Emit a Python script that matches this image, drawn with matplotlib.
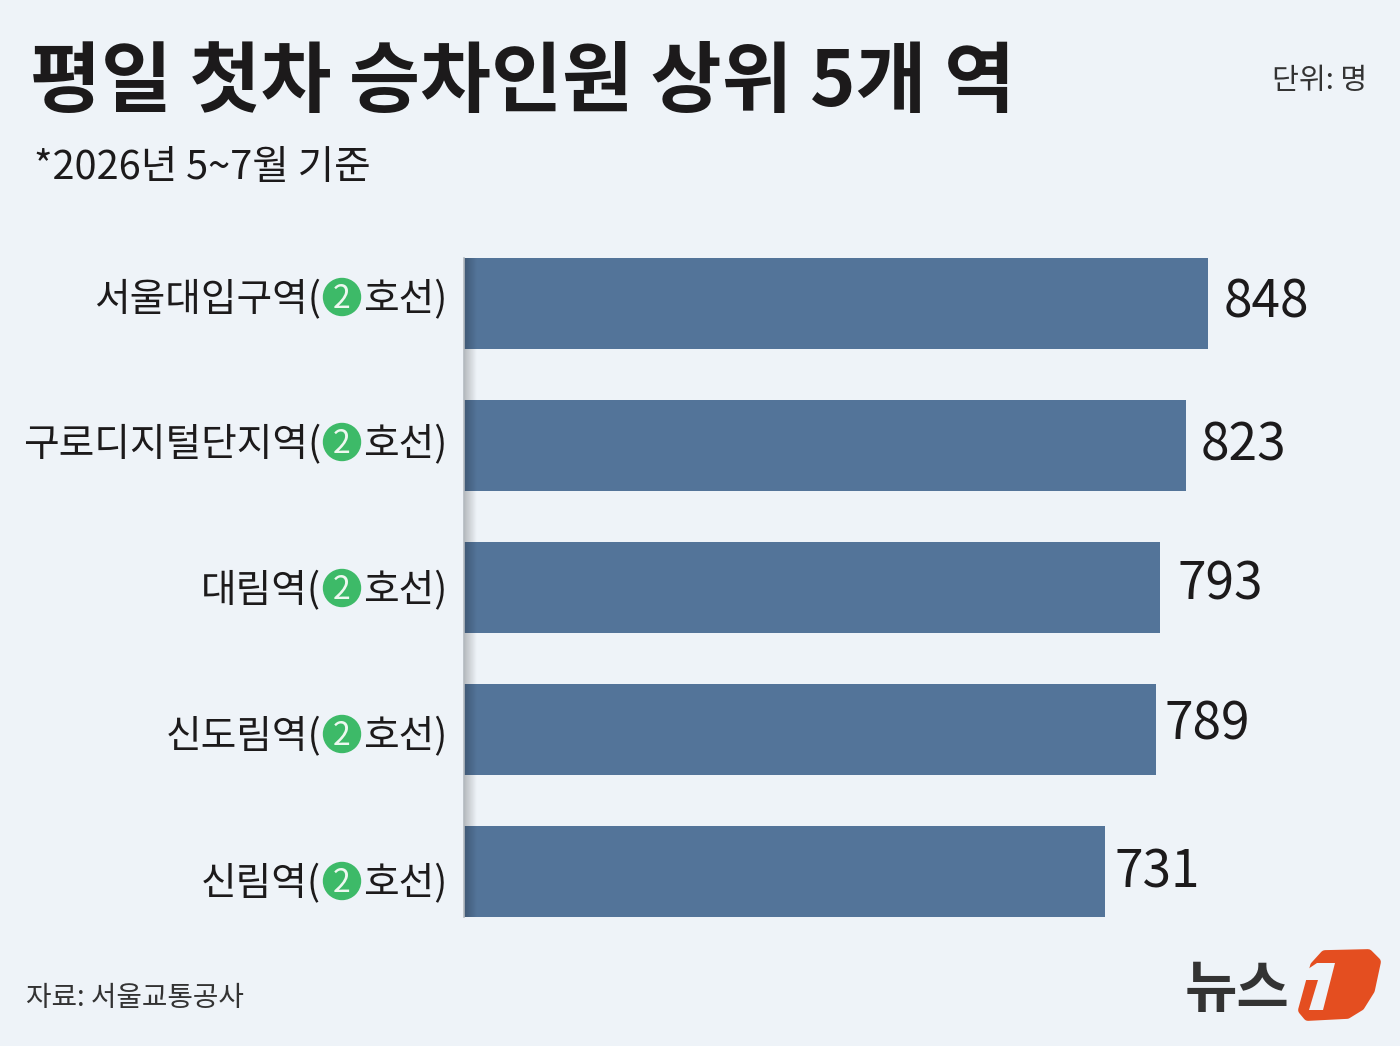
# -*- coding: utf-8 -*-

import numpy as np
import matplotlib
matplotlib.use("Agg")
import matplotlib.pyplot as plt
from matplotlib.patches import Circle, Polygon

plt.rcParams['font.family'] = ['Noto Sans CJK KR', 'DejaVu Sans']

stations = ["서울대입구역", "구로디지털단지역", "대림역", "신도림역", "신림역"]
riders = [848, 823, 793, 789, 731]
line_no = "2"
line_suffix = "호선)"

title = "평일 첫차 승차인원 상위 5개 역"
subtitle = "*2026년 5~7월 기준"
unit = "단위: 명"
source = "자료: 서울교통공사"

# the picture's labels do not sit exactly on the bars, so they are placed by pixel
label_y = [296, 441, 587, 733, 880]
value_right = [1309, 1286, 1263, 1250, 1200]
value_y = [298, 441, 580, 720, 868]

BG = "#eef3f8"
BAR = "#537499"
INK = "#1c1a1b"
W, H = 1400, 1046

fig = plt.figure(figsize=(W / 100, H / 100), dpi=100, facecolor=BG)

# bars: 464..1208 px is 0..848
ax = fig.add_axes([464 / W, 1 - 917 / H, 744 / W, (917 - 258) / H])
ax.set_facecolor("none")
pos = np.arange(len(riders))
ax.barh(pos, riders, height=91 / 142, color=BAR)
ax.set_xlim(0, 848)
ax.set_ylim(4 + 45.5 / 142, -45.5 / 142)
ax.axis("off")

# overlay in pixel coordinates for text and decorations
ov = fig.add_axes([0, 0, 1, 1])
ov.set_facecolor("none")

shade = np.zeros((1, 64, 4))
shade[0, :, 3] = np.linspace(0.24, 0, 64)
ov.imshow(shade, extent=[464, 477, 917, 258], aspect="auto", zorder=1)
ov.plot([464, 464], [258, 917], color="#b4bac0", lw=1.2, zorder=1)

ov.text(30, 83, title, fontsize=55.6, fontweight="bold", color=INK, va="center", ha="left")
ov.text(34, 168, subtitle, fontsize=28.6, color=INK, va="center", ha="left")
ov.text(1367, 81, unit, fontsize=21, color="#333333", va="center", ha="right")
ov.text(26, 998, source, fontsize=20, color="#333333", va="center", ha="left")

for name, y in zip(stations, label_y):
    ov.text(321, y + 4, name + "(", fontsize=27.9, color=INK, va="center", ha="right")
    ov.add_patch(Circle((342, y + 1), 18.5, color="#3dba68", zorder=2))
    ov.text(342, y + 3, line_no, fontsize=23, color="#eef8f0", va="center", ha="center", zorder=3)
    ov.text(447, y + 4, line_suffix, fontsize=27.9, color=INK, va="center", ha="right")

for val, x, y in zip(riders, value_right, value_y):
    ov.text(x, y + 5, str(val), fontsize=37, fontweight="medium", color=INK, va="center", ha="right")

# logo
ov.text(1237, 990, "뉴스", fontsize=41, fontweight="black", color="#333333", va="center", ha="center")
ov.add_patch(Polygon([(1325, 955), (1368, 954), (1376, 962), (1370, 990), (1360, 1006),
                      (1347, 1014), (1308, 1016), (1303, 1010), (1315, 966)],
                     closed=True, facecolor="#e44e20", edgecolor="#e44e20", lw=7, joinstyle="round", zorder=2))
ov.add_patch(Polygon([(1317, 963), (1335, 963), (1323, 1010), (1309, 1010), (1318, 980), (1305, 980),
                      (1308, 969)], closed=True, facecolor=BG, edgecolor="none", zorder=3))

ov.set_xlim(0, W)
ov.set_ylim(H, 0)
ov.axis("off")

fig.savefig("out.png", dpi=100, facecolor=BG)
